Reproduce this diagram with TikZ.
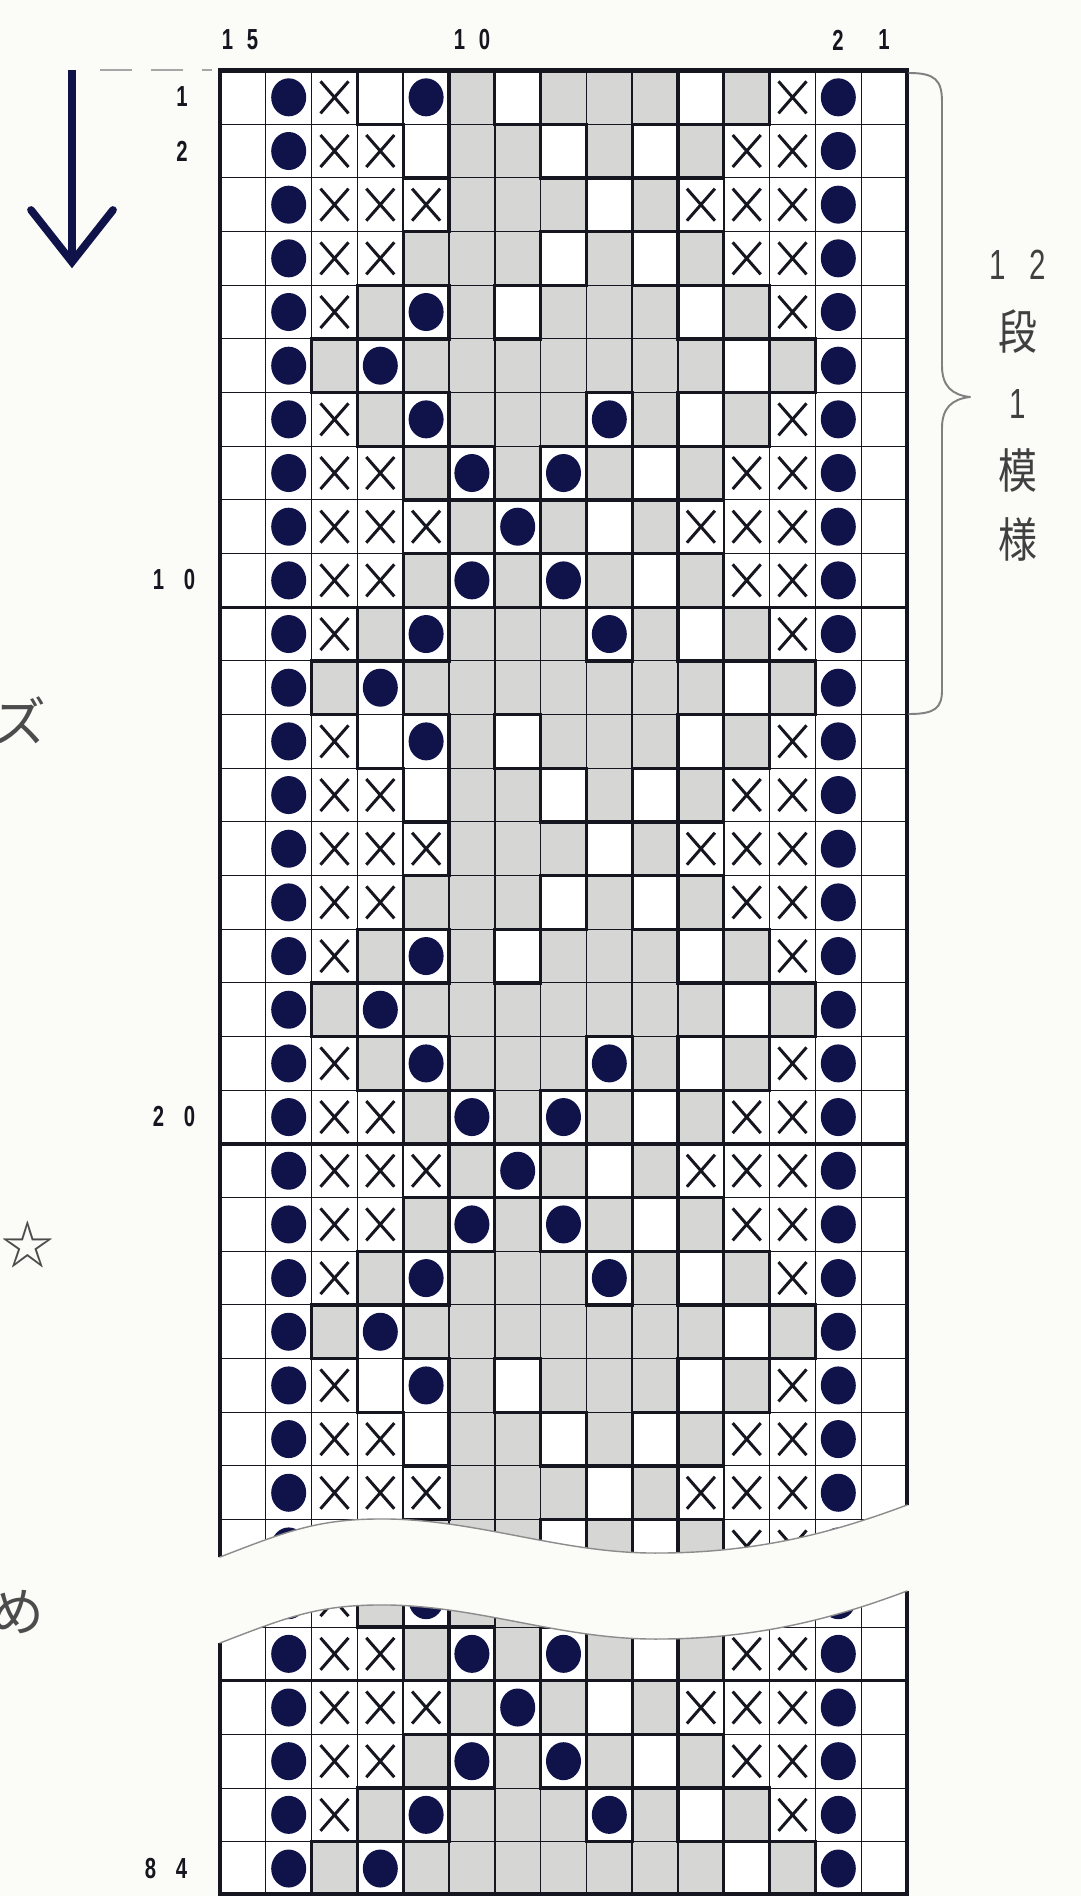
\documentclass[tikz,border=0pt]{standalone}
\usepackage{fontspec}
\usepackage{graphicx}
\setsansfont{Liberation Sans}
\newfontfamily\jpfont{Noto Sans CJK JP}

\definecolor{ink}{RGB}{22,22,32}
\definecolor{navy}{RGB}{16,18,74}
\definecolor{cellgray}{RGB}{214,215,212}
\definecolor{paper}{RGB}{251,251,247}

% grid: left edge, cell width, row height (in px of the page)
\newcommand{\gx}{220}
\newcommand{\cw}{45.8}
\newcommand{\rh}{53.67}

% narrow digits and kanji
\newcommand{\narrownum}[1]{\scalebox{0.7}[1]{#1}}
\newcommand{\narrowjp}[1]{\scalebox{0.82}[1]{\jpfont\fontsize{27}{27}\selectfont #1}}

% 12-row repeat: cells (w white, g gray, o bead, x cross),
% thick verticals (boundary no.) and thick bottom edges (cell no.)
\makeatletter
\@namedef{cells1}{w,o,x,w,o,g,w,g,g,g,w,g,x,o,w}
\@namedef{cells2}{w,o,x,x,w,g,g,w,g,w,g,x,x,o,w}
\@namedef{cells3}{w,o,x,x,x,g,g,g,w,g,x,x,x,o,w}
\@namedef{cells4}{w,o,x,x,g,g,g,w,g,w,g,x,x,o,w}
\@namedef{cells5}{w,o,x,g,o,g,w,g,g,g,w,g,x,o,w}
\@namedef{cells6}{w,o,g,o,g,g,g,g,g,g,g,w,g,o,w}
\@namedef{cells7}{w,o,x,g,o,g,g,g,o,g,w,g,x,o,w}
\@namedef{cells8}{w,o,x,x,g,o,g,o,g,w,g,x,x,o,w}
\@namedef{cells9}{w,o,x,x,x,g,o,g,w,g,x,x,x,o,w}
\@namedef{cells10}{w,o,x,x,g,o,g,o,g,w,g,x,x,o,w}
\@namedef{cells11}{w,o,x,g,o,g,g,g,o,g,w,g,x,o,w}
\@namedef{cells12}{w,o,g,o,g,g,g,g,g,g,g,w,g,o,w}
\@namedef{vthick1}{3,5,6,7,10,11,12}
\@namedef{vthick2}{4,5,7,8,9,10,11}
\@namedef{vthick3}{5,8,9,10}
\@namedef{vthick4}{4,7,8,9,10,11}
\@namedef{vthick5}{3,4,5,6,7,10,11,12}
\@namedef{vthick6}{2,3,4,11,12,13}
\@namedef{vthick7}{3,4,5,8,9,10,11,12}
\@namedef{vthick8}{4,5,6,7,8,9,10,11}
\@namedef{vthick9}{5,6,7,8,9,10}
\@namedef{vthick10}{4,5,6,7,8,9,10,11}
\@namedef{vthick11}{3,4,5,8,9,10,11,12}
\@namedef{vthick12}{2,3,4,11,12,13}
\@namedef{hthick1}{3,6,7,9,10,11}
\@namedef{hthick2}{4,7,8,9,10}
\@namedef{hthick3}{4,7,8,9,10}
\@namedef{hthick4}{3,4,6,7,9,10,11}
\@namedef{hthick5}{2,3,4,6,10,11,12}
\@namedef{hthick6}{2,3,4,8,10,11,12}
\@namedef{hthick7}{3,4,5,7,8,9,10,11}
\@namedef{hthick8}{4,5,6,7,8,9,10}
\@namedef{hthick9}{4,5,6,7,8,9,10}
\@namedef{hthick10}{3,4,5,7,8,9,10,11}
\@namedef{hthick11}{2,3,4,8,10,11,12}
\@namedef{hthick12}{2,4,6,10,11,12}
\makeatother

% rows #1..#2 of the chart, top of row #1 at y=#3
\newcommand{\chartrows}[3]{%
  % gray cells and row rules
  \foreach \rr in {#1,...,#2}{
    \pgfmathsetmacro{\yt}{#3+(\rr-#1)*\rh}
    \pgfmathtruncatemacro{\pp}{mod(\rr-1,12)+1}
    \edef\cellist{\csname cells\pp\endcsname}
    \foreach \kind [count=\col from 0] in \cellist{
      \if g\kind \fill[cellgray] (\gx+\col*\cw,\yt) rectangle ++(\cw,\rh);\fi
    }
    \draw[thinrule] (\gx,\yt) -- ++(15*\cw,0);
  }
  % column rules
  \pgfmathsetmacro{\yb}{#3+(#2-#1+1)*\rh}
  \foreach \jj in {1,14}{\draw[thinrule] (\gx+\jj*\cw,#3) -- (\gx+\jj*\cw,\yb);}
  \foreach \jj in {2,...,13}{\draw[midrule] (\gx+\jj*\cw,#3) -- (\gx+\jj*\cw,\yb);}
  % thick outlines and every 10th row
  \foreach \rr in {#1,...,#2}{
    \pgfmathsetmacro{\yt}{#3+(\rr-#1)*\rh}
    \pgfmathtruncatemacro{\pp}{mod(\rr-1,12)+1}
    \edef\vlist{\csname vthick\pp\endcsname}
    \edef\hlist{\csname hthick\pp\endcsname}
    \foreach \jj in \vlist{\draw[thickrule] (\gx+\jj*\cw,\yt) -- ++(0,\rh);}
    \foreach \jj in \hlist{\draw[thickrule] (\gx+\jj*\cw,\yt+\rh) -- ++(\cw,0);}
    \pgfmathtruncatemacro{\tens}{mod(\rr,10)}
    \ifnum\tens=0 \draw[thickrule] (\gx,\yt+\rh) -- ++(15*\cw,0);\fi
  }
  % beads and crosses
  \foreach \rr in {#1,...,#2}{
    \pgfmathsetmacro{\yc}{#3+(\rr-#1+0.5)*\rh}
    \pgfmathtruncatemacro{\pp}{mod(\rr-1,12)+1}
    \edef\cellist{\csname cells\pp\endcsname}
    \foreach \kind [count=\col from 0] in \cellist{
      \pgfmathsetmacro{\xc}{\gx+(\col+0.5)*\cw}
      \if o\kind \fill[navy] (\xc,\yc) ellipse [x radius=17.5, y radius=19];\fi
      \if x\kind \draw[xmark] (\xc-14,\yc-16) -- ++(28,32) ++(-28,0) -- ++(28,-32);\fi
    }
  }
}

\begin{document}
\begin{tikzpicture}[x=0.02cm, y=-0.02cm, line join=round, line cap=round,
    thinrule/.style={draw=ink, line width=0.55pt},
    midrule/.style={draw=ink, line width=1.0pt},
    thickrule/.style={draw=ink, line width=1.9pt, line cap=rect},
    chartframe/.style={draw=ink, line width=2.8pt, line join=miter, line cap=butt},
    xmark/.style={draw=ink, line width=1.7pt, line cap=butt},
    cutline/.style={draw=black!45, line width=0.8pt},
    numlabel/.style={font=\sffamily\bfseries\fontsize{16.5}{17}\selectfont, text=ink, inner sep=0pt},
    vlabel/.style={align=center, font=\sffamily\fontsize{24}{39.5}\selectfont, text=black!75, inner sep=0pt},
    sidetext/.style={font=\jpfont\fontsize{30}{30}\selectfont, text=black!70, inner sep=0pt, anchor=east}]

  \useasboundingbox (0,0) rectangle (1081,1896);
  \clip (0,0) rectangle (1081,1896);
  \fill[paper] (0,0) rectangle (1081,1896);

  % arrow: direction of work
  \coordinate (arrowtop) at (72,70);
  \coordinate (arrowtip) at (72,262);
  \draw[navy, line width=4.4pt, line cap=butt] (arrowtop) -- (arrowtip);
  \draw[navy, line width=4.4pt, line join=miter] (31,210) -- (arrowtip) -- (113,210);
  \draw[black!35, line width=1.4pt, line cap=butt, dash pattern=on 18pt off 11pt] (100,70) -- (212,70);

  % upper part of the chart, rows 1-28
  \begin{scope}
    \clip (150,0) -- (150,1557) -- (220,1557) .. controls (290,1530) and (320,1518) .. (390,1519)
      .. controls (480,1521) and (560,1552) .. (650,1553) .. controls (760,1554) and (840,1530) .. (907,1505)
      -- (1000,1505) -- (1000,0) -- cycle;
    \fill[white] (\gx,70.5) rectangle (907,1600);
    \chartrows{1}{28}{70.5}
    \draw[chartframe] (\gx,1600) -- (\gx,70.5) -- (907,70.5) -- (907,1600);
  \end{scope}
  \draw[cutline] (220,1557) .. controls (290,1530) and (320,1518) .. (390,1519)
    .. controls (480,1521) and (560,1552) .. (650,1553) .. controls (760,1554) and (840,1530) .. (907,1505);

  % lower part of the chart, rows 79-84
  \begin{scope}
    \clip (150,1900) -- (150,1643) -- (220,1643) .. controls (290,1616) and (320,1604) .. (390,1605)
      .. controls (480,1607) and (560,1638) .. (650,1639) .. controls (760,1640) and (840,1616) .. (907,1591)
      -- (1000,1591) -- (1000,1900) -- cycle;
    \fill[white] (\gx,1500) rectangle (907,1894);
    \chartrows{79}{84}{1573.33}
    \draw[chartframe] (\gx,1500) -- (\gx,1894) -- (907,1894) -- (907,1500);
  \end{scope}
  \draw[cutline] (220,1643) .. controls (290,1616) and (320,1604) .. (390,1605)
    .. controls (480,1607) and (560,1638) .. (650,1639) .. controls (760,1640) and (840,1616) .. (907,1591);

  % column numbers
  \node[numlabel] (col15) at (240,40) {\narrownum{1\hspace{11pt}5}};
  \node[numlabel] (col10) at (472,40) {\narrownum{1\hspace{11pt}0}};
  \node[numlabel] (col2) at (838,40) {\narrownum{2}};
  \node[numlabel] (col1) at (884,40) {\narrownum{1}};

  % row numbers
  \node[numlabel] (row1) at (182,97) {\narrownum{1}};
  \node[numlabel] (row2) at (182,151) {\narrownum{2}};
  \node[numlabel] (row10) at (174,580) {\narrownum{1\hspace{16pt}0}};
  \node[numlabel] (row20) at (174,1117) {\narrownum{2\hspace{16pt}0}};
  \node[numlabel] (row84) at (166,1868) {\narrownum{8\hspace{16pt}4}};

  % brace: one repeat of 12 rows
  \draw[black!50, line width=1.1pt] (909,73) .. controls (935,73) and (942,80) .. (942,102)
    -- (942,366) .. controls (942,386) and (952,395) .. (970,397)
    .. controls (952,399) and (942,408) .. (942,428)
    -- (942,690) .. controls (942,708) and (935,714) .. (909,714);
  \node[vlabel] (repeat) at (1018,406)
    {\narrownum{1\hspace{19pt}2}\\\narrowjp{段}\\\narrownum{1}\\\narrowjp{模}\\\narrowjp{様}};

  % cut-off text of the neighbouring column
  \node[sidetext] (kanaz) at (47,720) {ズ};
  \node[sidetext] (star) at (55,1245) {☆};
  \node[sidetext] (kaname) at (45,1612) {め};
\end{tikzpicture}
\end{document}
